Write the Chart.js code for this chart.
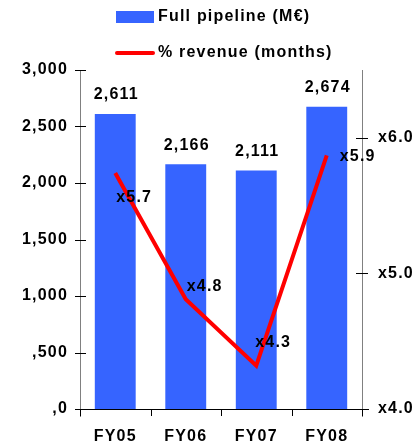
<!DOCTYPE html>
<html>
<head>
<meta charset="utf-8">
<script src="https://cdn.jsdelivr.net/npm/chart.js@4.4.1/dist/chart.umd.min.js"></script>
<style>
html,body{margin:0;padding:0;background:#fff;}
#wrap{width:412px;height:446px;position:relative;}
</style>
</head>
<body>
<div id="wrap"><canvas id="c" width="412" height="446"></canvas></div>
<script>
const categories = ["FY05", "FY06", "FY07", "FY08"];
const pipelineValues = [2611, 2166, 2111, 2674];
const revenueMonths = [5.74, 4.81, 4.32, 5.87];
const pipelineLabel = "Full pipeline (M\u20AC)";
const revenueLabel = "% revenue (months)";
const leftTickLabels = [",0", ",500", "1,000", "1,500", "2,000", "2,500", "3,000"];
const rightTickLabels = ["x4.0", "x5.0", "x6.0"];

const FONT = "'Liberation Sans', Arial, sans-serif";
const SPACING = "1.2px";
const BLUE = "#3664FF";
const RED = "#FF0000";

// per-point label nudges for the line labels (dx, dy)
const lineLabelNudge = [[1, 25], [1, -13], [-1, -23], [13, 1]];

const decorPlugin = {
  id: "decor",
  beforeDraw(chart) {
    chart.ctx.letterSpacing = SPACING;
  },
  afterDraw(chart) {
    const ctx = chart.ctx;
    const xs = chart.scales.x, yl = chart.scales.y, yr = chart.scales.y1;
    const area = chart.chartArea;
    ctx.save();
    ctx.letterSpacing = SPACING;
    ctx.lineWidth = 1;
    ctx.strokeStyle = "#808080";
    ctx.beginPath();
    ctx.moveTo(area.left + 0.5, area.top); ctx.lineTo(area.left + 0.5, area.bottom + 8);
    ctx.moveTo(area.right + 0.5, area.top); ctx.lineTo(area.right + 0.5, area.bottom + 8);
    ctx.stroke();
    ctx.strokeStyle = "#000";
    ctx.beginPath();
    ctx.moveTo(area.left - 5, area.bottom + 0.5); ctx.lineTo(area.right + 7, area.bottom + 0.5);
    ctx.stroke();
    ctx.beginPath();
    yl.ticks.forEach(t => {
      const y = Math.round(yl.getPixelForValue(t.value)) + 0.5;
      ctx.moveTo(area.left - 5, y); ctx.lineTo(area.left + 6, y);
    });
    yr.ticks.forEach(t => {
      const y = Math.round(yr.getPixelForValue(t.value)) + 0.5;
      ctx.moveTo(area.right - 6, y); ctx.lineTo(area.right + 6, y);
    });
    for (let i = 0; i <= categories.length; i++) {
      const x = Math.round(xs.getPixelForValue(i - 0.5)) + 0.5;
      ctx.moveTo(x, area.bottom); ctx.lineTo(x, area.bottom + 7);
    }
    ctx.stroke();

    ctx.fillStyle = "#000";
    ctx.font = "bold 16px " + FONT;
    ctx.textAlign = "center";
    ctx.textBaseline = "middle";
    chart.getDatasetMeta(0).data.forEach((bar, i) => {
      ctx.fillText(pipelineValues[i].toLocaleString("en-US"), bar.x + 1, bar.y - 19);
    });
    ctx.textAlign = "left";
    chart.getDatasetMeta(1).data.forEach((pt, i) => {
      const n = lineLabelNudge[i];
      ctx.fillText("x" + revenueMonths[i].toFixed(1), pt.x + n[0], pt.y + n[1]);
    });

    ctx.fillStyle = BLUE;
    ctx.fillRect(116, 11, 38, 12);
    ctx.fillStyle = "#000";
    ctx.fillText(chart.data.datasets[0].label, 158, 17);
    ctx.strokeStyle = RED;
    ctx.lineWidth = 4;
    ctx.lineCap = "round";
    ctx.beginPath();
    ctx.moveTo(117, 53); ctx.lineTo(153, 53);
    ctx.stroke();
    ctx.fillText(chart.data.datasets[1].label, 158, 53);
    ctx.restore();
  }
};

const tickFont = { family: FONT, size: 16, weight: "bold" };

new Chart(document.getElementById("c"), {
  data: {
    labels: categories,
    datasets: [
      {
        type: "bar",
        label: pipelineLabel,
        data: pipelineValues,
        backgroundColor: BLUE,
        borderWidth: 0,
        barPercentage: 0.58,
        categoryPercentage: 1.0,
        yAxisID: "y",
        order: 2
      },
      {
        type: "line",
        label: revenueLabel,
        data: revenueMonths,
        borderColor: RED,
        borderWidth: 4,
        pointRadius: 0,
        tension: 0,
        fill: false,
        yAxisID: "y1",
        order: 1
      }
    ]
  },
  options: {
    responsive: false,
    animation: false,
    devicePixelRatio: 1,
    layout: { padding: { top: 70, left: 0, right: 0, bottom: 0 } },
    plugins: { legend: { display: false }, tooltip: { enabled: false } },
    scales: {
      x: {
        type: "category",
        offset: true,
        grid: { display: false },
        border: { display: false },
        ticks: { color: "#000", font: tickFont, padding: 10 },
        afterFit(s) { s.height = 37; }
      },
      y: {
        type: "linear",
        position: "left",
        min: 0, max: 3000,
        ticks: {
          stepSize: 500,
          color: "#000",
          font: tickFont,
          padding: 4,
          callback: (v, i) => leftTickLabels[i]
        },
        grid: { display: false },
        border: { display: false },
        afterFit(s) { s.width = 80; }
      },
      y1: {
        type: "linear",
        position: "right",
        min: 4, max: 6.5,
        afterBuildTicks(s) { s.ticks = s.ticks.filter(t => Number.isInteger(t.value)); },
        ticks: {
          stepSize: 1,
          color: "#000",
          font: tickFont,
          padding: 8,
          callback: (v) => rightTickLabels[Math.round(v) - 4]
        },
        grid: { display: false },
        border: { display: false },
        afterFit(s) { s.width = 50; }
      }
    }
  },
  plugins: [decorPlugin]
});
</script>
</body>
</html>
